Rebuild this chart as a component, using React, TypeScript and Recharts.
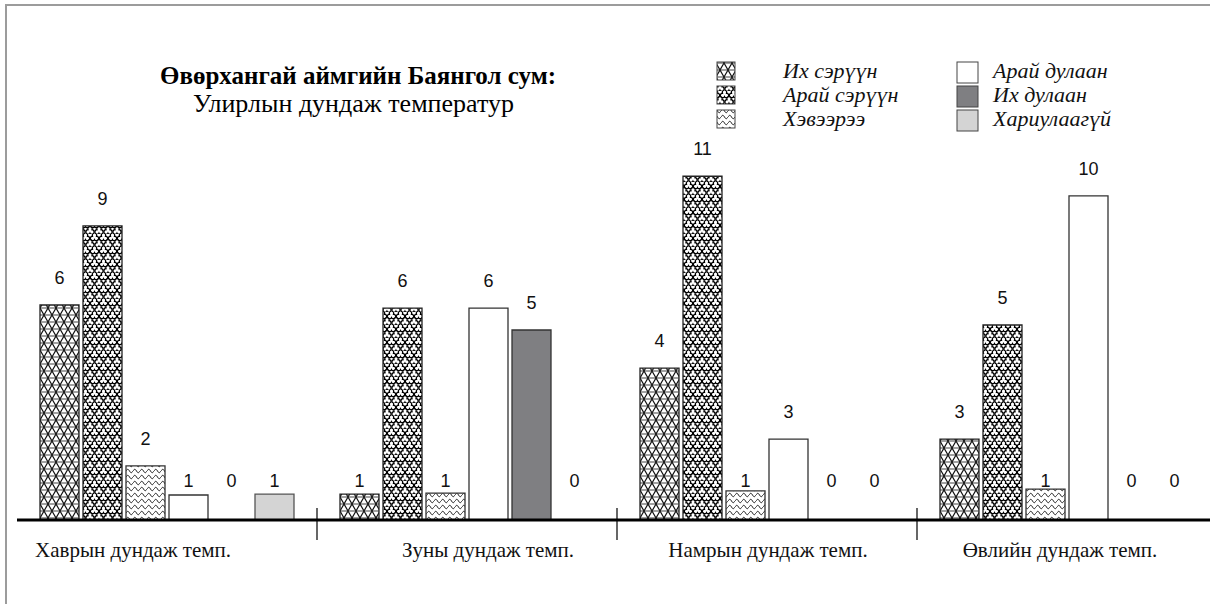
import { BarChart, Bar, XAxis, YAxis, LabelList, Cell } from 'recharts';

const seasons = ['Хаврын дундаж темп.', 'Зуны дундаж темп.', 'Намрын дундаж темп.', 'Өвлийн дундаж темп.'];
const seriesNames = ['Их сэрүүн', 'Арай сэрүүн', 'Хэвээрээ', 'Арай дулаан', 'Их дулаан', 'Хариулаагүй'];

// bar lengths as drawn in the source (the original is not drawn to scale)
const ikhSeruun = [6.88, 0.83, 4.86, 2.59];
const araiSeruun = [9.41, 6.78, 11.0, 6.24];
const khevheer = [1.73, 0.86, 0.93, 0.99];
const araiDulaan = [0.8, 6.78, 2.59, 10.37];
const ikhDulaan = [0, 6.08, 0, 0];
const khariulaagui = [0.83, 0, 0, 0];

// counts printed above the bars
const ikhSeruunN = [6, 1, 4, 3];
const araiSeruunN = [9, 6, 11, 5];
const khevheerN = [2, 1, 1, 1];
const araiDulaanN = [1, 6, 3, 10];
const ikhDulaanN = [0, 5, 0, 0];
const khariulaaguiN = [1, 0, 0, 0];

const lengths = [ikhSeruun, araiSeruun, khevheer, araiDulaan, ikhDulaan, khariulaagui];
const counts = [ikhSeruunN, araiSeruunN, khevheerN, araiDulaanN, ikhDulaanN, khariulaaguiN];

const data = seasons.map((season, i) => {
  const row: Record<string, string | number> = { season };
  lengths.forEach((arr, k) => {
    row['v' + k] = arr[i];
    row['n' + k] = counts[k][i];
  });
  return row;
});

const fills = ['url(#hexPat)', 'url(#trefoilPat)', 'url(#wavePat)', '#ffffff', '#7f7f82', '#d4d4d4'];
const strokes = ['#222', '#222', '#333', '#333', '#333', '#555'];

const W = 1217;
const H = 604;
const LEFT = 17;
const BOTTOM_H = 84;
const BAND = (W - LEFT) / seasons.length;
const AXIS_Y = H - BOTTOM_H;
const labelShift = [-34, 21, 1, -7];

const serif = '"Liberation Serif", "Times New Roman", serif';
const sans = '"Liberation Sans", Arial, sans-serif';

function CountLabel(props: any) {
  const { x, y, width, height, value } = props;
  const top = Math.min(y, y + height);
  const h = Math.abs(height);
  const cy = h < 40 ? 480 : top - 28;
  return (
    <text x={x + width / 2} y={cy + 7} textAnchor="middle" fontFamily={sans} fontSize={18} fill="#111">
      {String(value)}
    </text>
  );
}

function SeasonTick(props: any) {
  const { x, payload, index } = props;
  return (
    <g>
      <text x={x + labelShift[index]} y={AXIS_Y + 37} textAnchor="middle" fontFamily={serif} fontSize={21} fill="#111">
        {payload.value}
      </text>
      {index < seasons.length - 1 && (
        <line x1={x + BAND / 2} x2={x + BAND / 2} y1={AXIS_Y - 12} y2={AXIS_Y + 20} stroke="#000" strokeWidth={1.2} />
      )}
    </g>
  );
}

function Trefoil({ cx, cy }: { cx: number; cy: number }) {
  const pts = [
    [cx, cy - 1.8],
    [cx - 1.9, cy + 1.2],
    [cx + 1.9, cy + 1.2],
  ];
  return (
    <g>
      {pts.map(([px, py], i) => (
        <circle key={'o' + i} cx={px} cy={py} r={2.1} fill="#fff" stroke="#000" strokeWidth={1.4} />
      ))}
      {pts.map(([px, py], i) => (
        <circle key={'i' + i} cx={px} cy={py} r={1.5} fill="#fff" />
      ))}
      <circle cx={cx} cy={cy} r={1.3} fill="#fff" />
    </g>
  );
}

function Patterns() {
  return (
    <svg width={0} height={0} style={{ position: 'absolute' }}>
      <defs>
        <pattern id="hexPat" width={8} height={14} patternUnits="userSpaceOnUse">
          <rect width={8} height={14} fill="#fff" />
          <path d="M0,0 L8,0 M0,7 L8,7 M0,14 L8,14" stroke="#444" strokeWidth={1.2} />
          <path d="M0,0 L4,7 L0,14 M8,0 L4,7 L8,14" stroke="#111" strokeWidth={1.2} fill="none" />
        </pattern>
        <pattern id="trefoilPat" width={9} height={13} patternUnits="userSpaceOnUse">
          <rect width={9} height={13} fill="#fff" />
          <Trefoil cx={4.5} cy={3.2} />
          <Trefoil cx={0} cy={9.7} />
          <Trefoil cx={9} cy={9.7} />
        </pattern>
        <pattern id="wavePat" width={7} height={6} patternUnits="userSpaceOnUse">
          <rect width={7} height={6} fill="#fff" />
          <path d="M0,3 c1.2,-2.2 2.3,-2.2 3.5,0 s2.3,2.2 3.5,0" stroke="#111" strokeWidth={1} fill="none" />
        </pattern>
      </defs>
    </svg>
  );
}

function TitleAndLegend() {
  const rowY = [62, 86, 110];
  return (
    <svg width={1210} height={150} style={{ position: 'absolute', left: 0, top: 0, pointerEvents: 'none' }}>
      <text x={160} y={84} fontFamily={serif} fontWeight="bold" fontSize={25} fill="#000">
        Өвөрхангай аймгийн Баянгол сум:
      </text>
      <text x={193} y={112} fontFamily={serif} fontSize={26} fill="#000">
        Улирлын дундаж температур
      </text>
      {seriesNames.map((name, i) => {
        const col = i < 3 ? 0 : 1;
        const row = i % 3;
        const sx = col === 0 ? 717 : 957;
        const size = col === 0 ? 18 : 21;
        const tx = col === 0 ? 783 : 993;
        return (
          <g key={name}>
            <rect x={sx} y={rowY[row]} width={size} height={size} fill={fills[i]} stroke="#444" strokeWidth={1} />
            <text x={tx} y={rowY[row] + 16} fontFamily={serif} fontStyle="italic" fontSize={22} fill="#111">
              {name}
            </text>
          </g>
        );
      })}
    </svg>
  );
}

export default function App() {
  return (
    <div style={{ position: 'absolute', left: 0, top: 0, width: 1210, height: H, overflow: 'hidden', background: '#fff' }}>
      <Patterns />
      <div
        style={{
          position: 'absolute',
          left: 5,
          top: 4,
          width: 1300,
          height: 700,
          borderTop: '2px solid #9c9c9c',
          borderLeft: '2px solid #9c9c9c',
        }}
      />
      <BarChart
        width={W}
        height={H}
        data={data}
        margin={{ top: 145, right: 0, bottom: 0, left: LEFT }}
        barCategoryGap={23}
        barGap={4}
      >
        <XAxis
          dataKey="season"
          height={BOTTOM_H}
          interval={0}
          tickLine={false}
          axisLine={{ stroke: '#000', strokeWidth: 3 }}
          tick={SeasonTick}
        />
        <YAxis hide domain={[0, 12]} />
        {seriesNames.map((name, k) => (
          <Bar
            key={name}
            dataKey={'v' + k}
            name={name}
            fill={fills[k]}
            stroke={strokes[k]}
            strokeWidth={1.3}
            minPointSize={1}
            isAnimationActive={false}
          >
            {lengths[k].map((v, i) => (
              <Cell key={i} fill={v === 0 ? 'none' : fills[k]} stroke={v === 0 ? 'none' : strokes[k]} />
            ))}
            <LabelList dataKey={'n' + k} content={CountLabel} />
          </Bar>
        ))}
      </BarChart>
      <TitleAndLegend />
    </div>
  );
}
